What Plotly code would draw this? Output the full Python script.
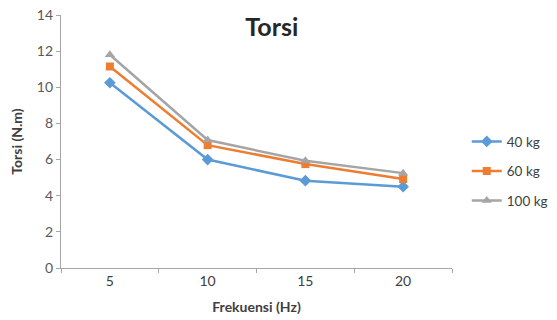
import plotly.graph_objects as go

# Frekuensi (Hz) categories and torsi (N.m) per load
frekuensi = ["5", "10", "15", "20"]
torsi_40kg = [10.25, 6.0, 4.83, 4.5]
torsi_60kg = [11.15, 6.8, 5.75, 4.92]
torsi_100kg = [11.8, 7.08, 5.93, 5.25]
y_ticks = [0, 2, 4, 6, 8, 10, 12, 14]

series = [
    ("40 kg", torsi_40kg, "#5b9bd5", "diamond", 9),
    ("60 kg", torsi_60kg, "#ed7d31", "square", 8),
    ("100 kg", torsi_100kg, "#a5a5a5", "triangle-up", 9),
]

fig = go.Figure()
for i, (name, vals, color, symbol, size) in enumerate(series):
    fig.add_trace(go.Scatter(
        x=frekuensi, y=vals, name=name, mode="lines+markers",
        line=dict(color=color, width=2.5),
        marker=dict(symbol=symbol, size=size, color=color),
        legendgroup=f"g{i}",
    ))

font_family = "Lato, 'Open Sans', sans-serif"
fig.update_layout(
    width=557, height=320,
    margin=dict(l=61, r=105, t=15, b=52, autoexpand=False),
    paper_bgcolor="white", plot_bgcolor="white",
    font=dict(family=font_family, color="#404040", size=12),
    title=dict(text="<b>Torsi</b>", x=0.488, xanchor="center", y=0.915, yanchor="middle",
               font=dict(size=25, color="#262626")),
    legend=dict(xref="container", yref="container", x=0.838, xanchor="left",
                y=0.465, yanchor="middle",
                font=dict(size=13.5, color="#404040"), tracegroupgap=9,
                itemwidth=30),
    showlegend=True,
)
fig.update_xaxes(
    type="category", range=[-0.5, 3.5], tickson="boundaries", ticks="outside", ticklen=4,
    tickcolor="#a6a6a6", showline=True, linecolor="#a6a6a6", linewidth=1.2,
    showgrid=False, tickfont=dict(size=14, color="#404040"),
    title=dict(text="<b>Frekuensi (Hz)</b>", font=dict(size=14, color="#404040"), standoff=14),
)
fig.update_yaxes(
    range=[0, 14], tickvals=y_ticks, ticks="outside", ticklen=4,
    tickcolor="#a6a6a6", showline=True, linecolor="#a6a6a6", linewidth=1.2,
    showgrid=False, zeroline=False, tickfont=dict(size=14, color="#595959"),
    title=dict(text="<b>Torsi (N.m)</b>", font=dict(size=14, color="#404040"), standoff=10),
)

fig.write_html("out.html")
